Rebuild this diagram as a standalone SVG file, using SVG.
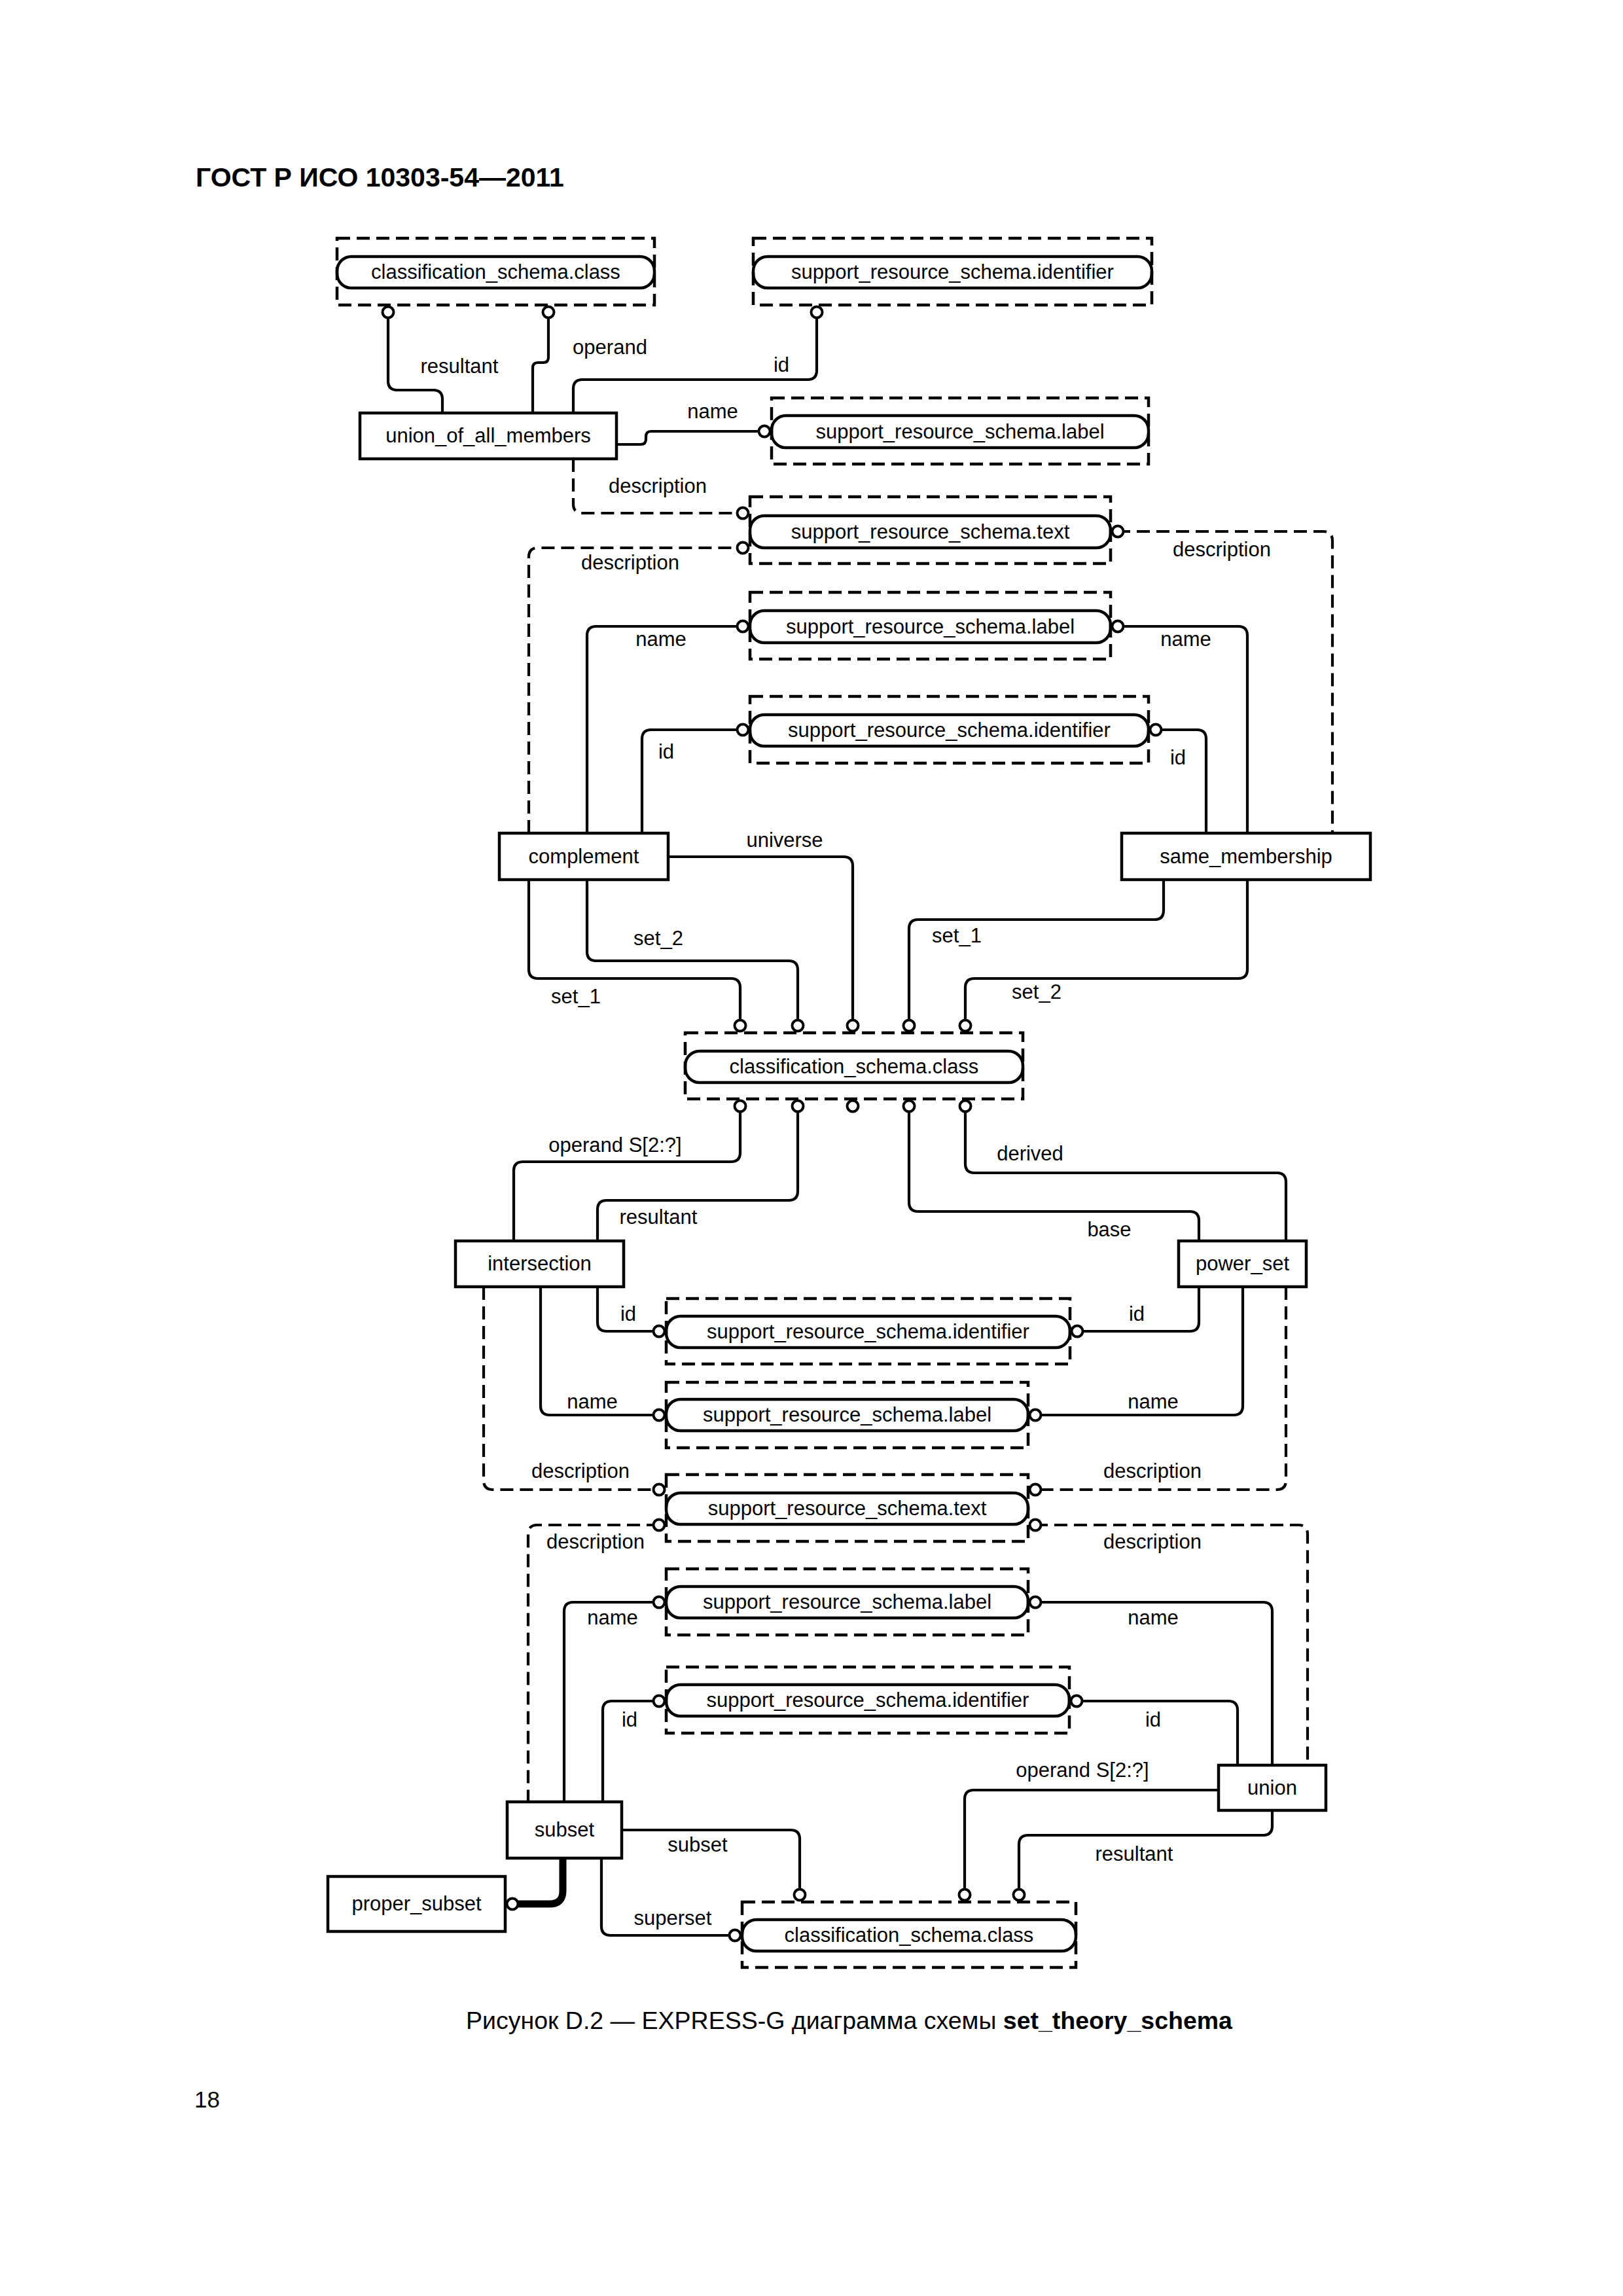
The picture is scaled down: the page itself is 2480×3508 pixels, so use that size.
<svg xmlns="http://www.w3.org/2000/svg" width="2480" height="3508" viewBox="0 0 2480 3508">
<style>
text{font-family:"Liberation Sans",Arial,sans-serif;font-size:31px;fill:#000}
.c{text-anchor:middle}
.dbox{fill:none;stroke:#000;stroke-width:4.5;stroke-dasharray:20 10}
.pill{fill:none;stroke:#000;stroke-width:4.5}
.ent{fill:#fff;stroke:#000;stroke-width:4.5}
.ln{fill:none;stroke:#000;stroke-width:4.2}
.dl{fill:none;stroke:#000;stroke-width:4.2;stroke-dasharray:20 10}
.thick{fill:none;stroke:#000;stroke-width:11}
.o{fill:#fff;stroke:#000;stroke-width:4}
.title{font-size:41px;font-weight:bold}
.cap{font-size:37.5px}
</style>
<rect width="2480" height="3508" fill="#fff"/>
<text class="title" x="299" y="285">ГОСТ Р ИСО 10303-54—2011</text>

<g id="connectors">
<path class="ln" d="M676,631 V610 Q676,596 662,596 H607 Q593,596 593,582 V476"/>
<path class="ln" d="M814,631 V562 Q814,554 822,554 H830 Q838,554 838,546 V476"/>
<path class="ln" d="M876,631 V594 Q876,580 890,580 H1234 Q1248,580 1248,566 V476"/>
<path class="ln" d="M942,679 H979 Q987,679 987,671 V667 Q987,659 995,659 H1170"/>
<path class="dl" d="M876,701 V770 Q876,784 890,784 H1136"/>
<path class="dl" d="M808,1273 V851 Q808,837 822,837 H1136"/>
<path class="ln" d="M897,1273 V971 Q897,957 911,957 H1136"/>
<path class="ln" d="M981,1273 V1129 Q981,1115 995,1115 H1136"/>
<path class="ln" d="M1021,1309 H1289 Q1303,1309 1303,1323 V1568"/>
<path class="ln" d="M897,1344 V1454 Q897,1468 911,1468 H1205 Q1219,1468 1219,1482 V1568"/>
<path class="ln" d="M808,1344 V1481 Q808,1495 822,1495 H1117 Q1131,1495 1131,1509 V1568"/>
<path class="dl" d="M1707,812 H2022 Q2036,812 2036,826 V1273"/>
<path class="ln" d="M1707,957 H1892 Q1906,957 1906,971 V1273"/>
<path class="ln" d="M1765,1115 H1829 Q1843,1115 1843,1129 V1273"/>
<path class="ln" d="M1778,1344 V1391 Q1778,1405 1764,1405 H1403 Q1389,1405 1389,1419 V1568"/>
<path class="ln" d="M1906,1344 V1481 Q1906,1495 1892,1495 H1489 Q1475,1495 1475,1509 V1568"/>
<path class="ln" d="M1131,1689 V1761 Q1131,1775 1117,1775 H799 Q785,1775 785,1789 V1896"/>
<path class="ln" d="M1219,1689 V1820 Q1219,1834 1205,1834 H927 Q913,1834 913,1848 V1896"/>
<path class="ln" d="M1389,1689 V1837 Q1389,1851 1403,1851 H1818 Q1832,1851 1832,1865 V1896"/>
<path class="ln" d="M1475,1689 V1778 Q1475,1792 1489,1792 H1951 Q1965,1792 1965,1806 V1896"/>
<path class="ln" d="M913,1966 V2020 Q913,2034 927,2034 H1008"/>
<path class="ln" d="M826,1966 V2148 Q826,2162 840,2162 H1008"/>
<path class="dl" d="M739,1966 V2262 Q739,2276 753,2276 H1008"/>
<path class="ln" d="M1832,1966 V2020 Q1832,2034 1818,2034 H1645"/>
<path class="ln" d="M1899,1966 V2148 Q1899,2162 1885,2162 H1581"/>
<path class="dl" d="M1965,1966 V2262 Q1965,2276 1951,2276 H1581"/>
<path class="dl" d="M1008,2330 H821 Q807,2330 807,2344 V2753"/>
<path class="ln" d="M1008,2448 H876 Q862,2448 862,2462 V2753"/>
<path class="ln" d="M1008,2599 H935 Q921,2599 921,2613 V2753"/>
<path class="ln" d="M950,2796 H1208 Q1222,2796 1222,2810 V2896"/>
<path class="ln" d="M919,2839 V2943 Q919,2957 933,2957 H1124"/>
<path class="thick" d="M860,2839 V2889 Q860,2909 840,2909 H782"/>
<path class="dl" d="M1581,2330 H1984 Q1998,2330 1998,2344 V2697"/>
<path class="ln" d="M1581,2448 H1930 Q1944,2448 1944,2462 V2697"/>
<path class="ln" d="M1644,2599 H1877 Q1891,2599 1891,2613 V2697"/>
<path class="ln" d="M1862,2735 H1488 Q1474,2735 1474,2749 V2896"/>
<path class="ln" d="M1944,2766 V2790 Q1944,2804 1930,2804 H1571 Q1557,2804 1557,2818 V2896"/>

<g id="ends">
<circle class="o" r="8.5" cx="593" cy="477"/>
<circle class="o" r="8.5" cx="838" cy="477"/>
<circle class="o" r="8.5" cx="1248" cy="477"/>
<circle class="o" r="8.5" cx="1168" cy="659"/>
<circle class="o" r="8.5" cx="1135" cy="784"/>
<circle class="o" r="8.5" cx="1135" cy="837"/>
<circle class="o" r="8.5" cx="1708" cy="812"/>
<circle class="o" r="8.5" cx="1135" cy="957"/>
<circle class="o" r="8.5" cx="1708" cy="957"/>
<circle class="o" r="8.5" cx="1135" cy="1115"/>
<circle class="o" r="8.5" cx="1766" cy="1115"/>
<circle class="o" r="8.5" cx="1131" cy="1567"/>
<circle class="o" r="8.5" cx="1219" cy="1567"/>
<circle class="o" r="8.5" cx="1303" cy="1567"/>
<circle class="o" r="8.5" cx="1389" cy="1567"/>
<circle class="o" r="8.5" cx="1475" cy="1567"/>
<circle class="o" r="8.5" cx="1131" cy="1690"/>
<circle class="o" r="8.5" cx="1219" cy="1690"/>
<circle class="o" r="8.5" cx="1303" cy="1690"/>
<circle class="o" r="8.5" cx="1389" cy="1690"/>
<circle class="o" r="8.5" cx="1475" cy="1690"/>
<circle class="o" r="8.5" cx="1007" cy="2034"/>
<circle class="o" r="8.5" cx="1646" cy="2034"/>
<circle class="o" r="8.5" cx="1007" cy="2162"/>
<circle class="o" r="8.5" cx="1582" cy="2162"/>
<circle class="o" r="8.5" cx="1007" cy="2276"/>
<circle class="o" r="8.5" cx="1007" cy="2330"/>
<circle class="o" r="8.5" cx="1582" cy="2276"/>
<circle class="o" r="8.5" cx="1582" cy="2330"/>
<circle class="o" r="8.5" cx="1007" cy="2448"/>
<circle class="o" r="8.5" cx="1582" cy="2448"/>
<circle class="o" r="8.5" cx="1007" cy="2599"/>
<circle class="o" r="8.5" cx="1645" cy="2599"/>
<circle class="o" r="8.5" cx="1222" cy="2895"/>
<circle class="o" r="8.5" cx="1474" cy="2895"/>
<circle class="o" r="8.5" cx="1557" cy="2895"/>
<circle class="o" r="8.5" cx="1123" cy="2957"/>
<circle class="o" r="8.5" cx="783" cy="2909"/>
</g>

<g id="labels">
<text class="c" x="702" y="570">resultant</text>
<text class="c" x="932" y="541">operand</text>
<text class="c" x="1194" y="568">id</text>
<text class="c" x="1089" y="639">name</text>
<text class="c" x="1005" y="753">description</text>
<text class="c" x="963" y="870">description</text>
<text class="c" x="1010" y="987">name</text>
<text class="c" x="1018" y="1159">id</text>
<text class="c" x="1867" y="850">description</text>
<text class="c" x="1812" y="987">name</text>
<text class="c" x="1800" y="1168">id</text>
<text class="c" x="1199" y="1294">universe</text>
<text class="c" x="1006" y="1444">set_2</text>
<text class="c" x="880" y="1533">set_1</text>
<text class="c" x="1462" y="1440">set_1</text>
<text class="c" x="1584" y="1526">set_2</text>
<text class="c" x="940" y="1760">operand S[2:?]</text>
<text class="c" x="1006" y="1870">resultant</text>
<text class="c" x="1695" y="1889">base</text>
<text class="c" x="1574" y="1773">derived</text>
<text class="c" x="960" y="2018">id</text>
<text class="c" x="905" y="2152">name</text>
<text class="c" x="887" y="2258">description</text>
<text class="c" x="1737" y="2018">id</text>
<text class="c" x="1762" y="2152">name</text>
<text class="c" x="1761" y="2258">description</text>
<text class="c" x="910" y="2366">description</text>
<text class="c" x="936" y="2482">name</text>
<text class="c" x="962" y="2638">id</text>
<text class="c" x="1761" y="2366">description</text>
<text class="c" x="1762" y="2482">name</text>
<text class="c" x="1762" y="2638">id</text>
<text class="c" x="1654" y="2715">operand S[2:?]</text>
<text class="c" x="1733" y="2843">resultant</text>
<text class="c" x="1066" y="2829">subset</text>
<text class="c" x="1028" y="2941">superset</text>
</g>
</g>

<g id="n-class-top"><rect class="dbox" x="515" y="364" width="485" height="102"/><rect class="pill" x="515" y="392" width="485" height="48" rx="22"/><text class="c" x="757.5" y="426">classification_schema.class</text></g>
<g id="n-identifier-top"><rect class="dbox" x="1151" y="364" width="609" height="102"/><rect class="pill" x="1151" y="392" width="609" height="48" rx="22"/><text class="c" x="1455.5" y="426">support_resource_schema.identifier</text></g>
<g id="n-label-top"><rect class="dbox" x="1179" y="608" width="576" height="101"/><rect class="pill" x="1179" y="635" width="576" height="49" rx="22"/><text class="c" x="1467" y="669.5">support_resource_schema.label</text></g>
<g id="n-text-1"><rect class="dbox" x="1146" y="759" width="551" height="102"/><rect class="pill" x="1146" y="788" width="551" height="49" rx="22"/><text class="c" x="1421.5" y="822.5">support_resource_schema.text</text></g>
<g id="n-label-1"><rect class="dbox" x="1146" y="905" width="551" height="102"/><rect class="pill" x="1146" y="933" width="551" height="49" rx="22"/><text class="c" x="1421.5" y="967.5">support_resource_schema.label</text></g>
<g id="n-identifier-1"><rect class="dbox" x="1146" y="1064" width="609" height="102"/><rect class="pill" x="1146" y="1092" width="609" height="48" rx="22"/><text class="c" x="1450.5" y="1126">support_resource_schema.identifier</text></g>
<g id="n-class-mid"><rect class="dbox" x="1047" y="1578" width="516" height="101"/><rect class="pill" x="1047" y="1606" width="516" height="48" rx="22"/><text class="c" x="1305" y="1640">classification_schema.class</text></g>
<g id="n-identifier-2"><rect class="dbox" x="1018" y="1984" width="617" height="100"/><rect class="pill" x="1018" y="2011" width="617" height="48" rx="22"/><text class="c" x="1326.5" y="2045">support_resource_schema.identifier</text></g>
<g id="n-label-2"><rect class="dbox" x="1018" y="2112" width="553" height="100"/><rect class="pill" x="1018" y="2138" width="553" height="48" rx="22"/><text class="c" x="1294.5" y="2172">support_resource_schema.label</text></g>
<g id="n-text-2"><rect class="dbox" x="1018" y="2253" width="553" height="102"/><rect class="pill" x="1018" y="2281" width="553" height="48" rx="22"/><text class="c" x="1294.5" y="2315">support_resource_schema.text</text></g>
<g id="n-label-3"><rect class="dbox" x="1018" y="2397" width="553" height="101"/><rect class="pill" x="1018" y="2424" width="553" height="48" rx="22"/><text class="c" x="1294.5" y="2458">support_resource_schema.label</text></g>
<g id="n-identifier-3"><rect class="dbox" x="1018" y="2547" width="616" height="101"/><rect class="pill" x="1018" y="2574" width="616" height="48" rx="22"/><text class="c" x="1326" y="2608">support_resource_schema.identifier</text></g>
<g id="n-class-bot"><rect class="dbox" x="1134" y="2906" width="510" height="100"/><rect class="pill" x="1134" y="2933" width="510" height="48" rx="22"/><text class="c" x="1389" y="2967">classification_schema.class</text></g>

<g id="n-union_of_all_members"><rect class="ent" x="550" y="631" width="392" height="70"/><text class="c" x="746" y="676">union_of_all_members</text></g>
<g id="n-complement"><rect class="ent" x="763" y="1273" width="258" height="71"/><text class="c" x="892" y="1318.5">complement</text></g>
<g id="n-same_membership"><rect class="ent" x="1714" y="1273" width="380" height="71"/><text class="c" x="1904" y="1318.5">same_membership</text></g>
<g id="n-intersection"><rect class="ent" x="696" y="1896" width="257" height="70"/><text class="c" x="824.5" y="1941">intersection</text></g>
<g id="n-power_set"><rect class="ent" x="1801" y="1896" width="195" height="70"/><text class="c" x="1898.5" y="1941">power_set</text></g>
<g id="n-subset"><rect class="ent" x="775" y="2753" width="175" height="86"/><text class="c" x="862.5" y="2806">subset</text></g>
<g id="n-union"><rect class="ent" x="1862" y="2697" width="164" height="69"/><text class="c" x="1944" y="2741.5">union</text></g>
<g id="n-proper_subset"><rect class="ent" x="501" y="2867" width="271" height="84"/><text class="c" x="636.5" y="2919">proper_subset</text></g>

<text class="cap" x="712" y="3100">Рисунок D.2 — EXPRESS-G диаграмма схемы <tspan font-weight="bold">set_theory_schema</tspan></text>
<text x="297" y="3220" style="font-size:35px">18</text>
</svg>
